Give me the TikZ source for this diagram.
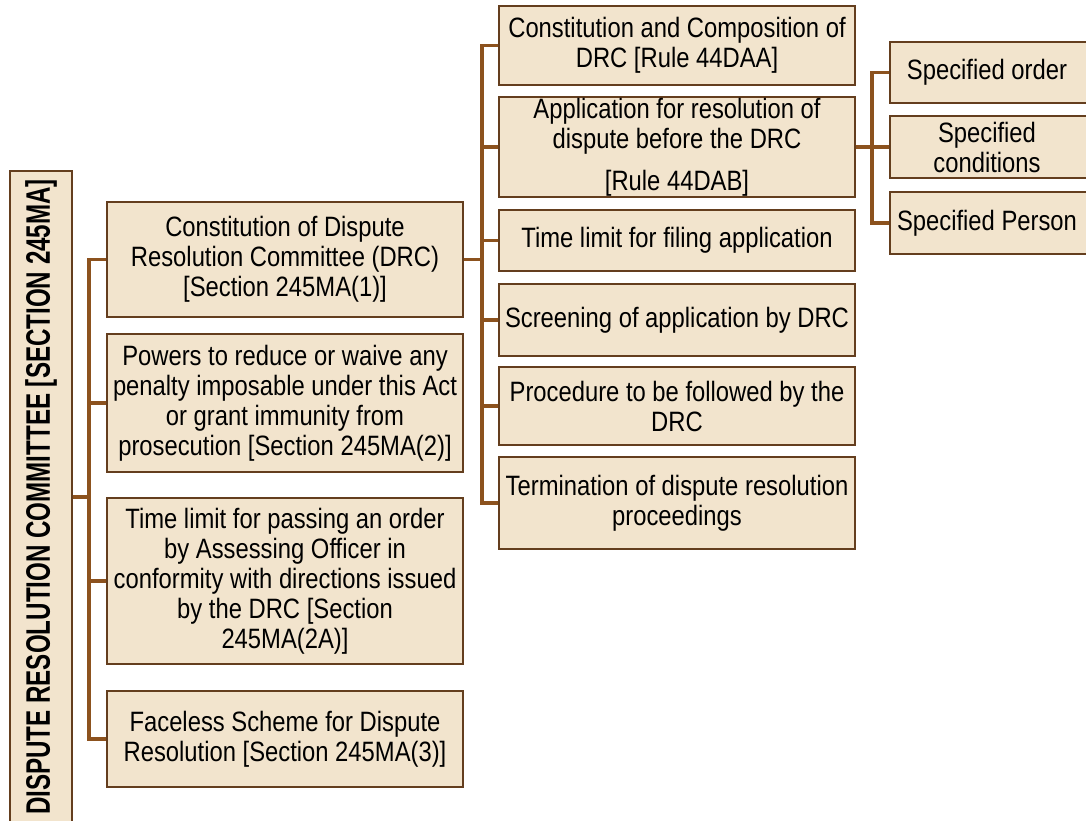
\documentclass[tikz,border=0pt]{standalone}
\usepackage{fontspec}
\setmainfont[FakeStretch=0.85]{Liberation Sans}
\newfontfamily\rootfont[FakeStretch=0.71]{Liberation Sans}
\definecolor{boxfill}{RGB}{242,228,205}
\definecolor{boxline}{RGB}{100,62,30}
\definecolor{connc}{RGB}{140,82,30}
\begin{document}
\begin{tikzpicture}[x=1pt,y=-1pt,
  box/.style={draw=boxline, line width=2.6pt, fill=boxfill, align=center,
    inner sep=1pt, font=\fontsize{28}{30}\selectfont},
  lone/.style={box, minimum width=356pt},
  lthree/.style={box, minimum width=202pt},
  connline/.style={draw=connc, line width=3.4pt, line join=miter}]
\clip (0,0) rectangle (1086,821);
\fill[white] (0,0) rectangle (1086,821);
\coordinate (t1) at (89,0);
\coordinate (t2) at (482,0);
\coordinate (t3) at (872,0);
% root
\node[box, minimum width=62pt, minimum height=652pt] (root) at (41,497)
  {\rotatebox{90}{\rootfont\bfseries\fontsize{34}{36}\selectfont DISPUTE RESOLUTION COMMITTEE [SECTION 245MA]}};
% level 1
\node[lone, minimum height=115pt] (b1) at (285,259.5)
  {Constitution of Dispute\\Resolution Committee (DRC)\\{[}Section 245MA(1)]};
\node[lone, minimum height=138pt] (b2) at (285,403)
  {Powers to reduce or waive any\\penalty imposable under this Act\\or grant immunity from\\prosecution {[}Section 245MA(2)]};
\node[lone, minimum height=166pt] (b3) at (285,581)
  {Time limit for passing an order\\by Assessing Officer in\\conformity with directions issued\\by the DRC {[}Section\\245MA(2A)]};
\node[lone, minimum height=96pt] (b4) at (285,739)
  {Faceless Scheme for Dispute\\Resolution {[}Section 245MA(3)]};
% level 2
\node[lone, minimum height=79pt] (ca) at (677,45.5)
  {Constitution and Composition of\\DRC {[}Rule 44DAA]};
\node[lone, minimum height=100pt] (cb) at (677,147)
  {Application for resolution of\\dispute before the DRC\\[12pt]{[}Rule 44DAB]};
\node[lone, minimum height=61pt] (cc) at (677,240.5)
  {Time limit for filing application};
\node[lone, minimum height=72pt] (cd) at (677,320)
  {Screening of application by DRC};
\node[lone, minimum height=78pt] (ce) at (677,406)
  {Procedure to be followed by the\\DRC};
\node[lone, minimum height=92pt] (cf) at (677,503)
  {Termination of dispute resolution\\proceedings};
% level 3
\node[lthree, minimum height=61pt] (da) at (991,72.5) {\hspace*{-8pt}Specified order};
\node[lthree, minimum height=62pt] (db) at (991,147) {\hspace*{-8pt}Specified\\\hspace*{-8pt}conditions};
\node[lthree, minimum height=62pt] (dc) at (991,223) {\hspace*{-8pt}Specified Person};
% connectors level 1
\draw[connline] (root.east) -- (root.east -| t1);
\draw[connline] (b1.west) -- (b1.west -| t1) |- (b4.west);
\draw[connline] (b2.west) -- (b2.west -| t1);
\draw[connline] (b3.west) -- (b3.west -| t1);
% connectors level 2
\draw[connline] (b1.east) -- (b1.east -| t2);
\draw[connline] (ca.west) -- (ca.west -| t2) |- (cf.west);
\draw[connline] (cb.west) -- (cb.west -| t2);
\draw[connline] (cc.west) -- (cc.west -| t2);
\draw[connline] (cd.west) -- (cd.west -| t2);
\draw[connline] (ce.west) -- (ce.west -| t2);
% connectors level 3
\draw[connline] (cb.east) -- (cb.east -| t3);
\draw[connline] (da.west) -- (da.west -| t3) |- (dc.west);
\draw[connline] (db.west) -- (db.west -| t3);
\end{tikzpicture}
\end{document}
